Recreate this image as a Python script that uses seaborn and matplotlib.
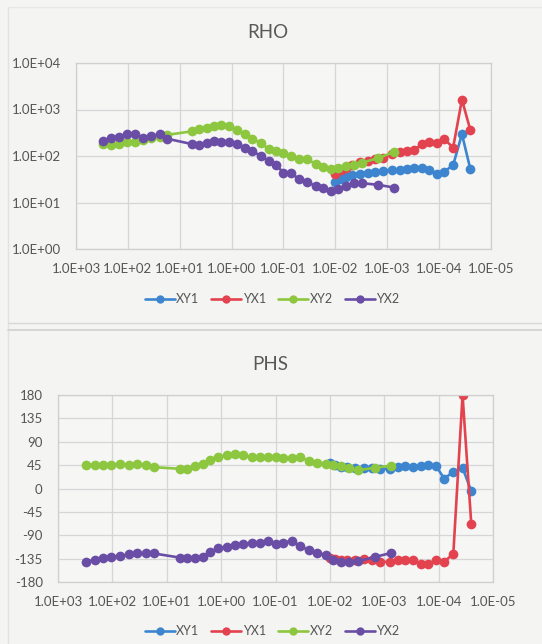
import numpy as np
import pandas as pd
import matplotlib
matplotlib.use("Agg")
import matplotlib.pyplot as plt
import seaborn as sns
from matplotlib.ticker import FuncFormatter, FixedLocator
from matplotlib.lines import Line2D

# ---------------- data ----------------
# low-frequency band (series 2) periods, s
period_2 = [302, 209, 148, 105, 72.4, 50.1, 35.5, 24.5, 17.4,
            5.75, 4.17, 3.02, 2.19, 1.58, 1.12, 0.794, 0.562, 0.398,
            0.275, 0.191, 0.138, 0.100, 0.0724, 0.0501, 0.0355, 0.0240,
            0.0170, 0.0120, 0.00891, 0.00631, 0.00447, 0.00302, 0.00151, 0.000741]
rho_xy2 = [180, 172, 185, 200, 205, 220, 240, 262, 285,
           340, 380, 410, 450, 460, 440, 360, 300, 235,
           190, 140, 128, 116, 100, 88, 85, 68,
           57, 52, 55, 60, 65, 72, 90, 122]
rho_yx2 = [207, 240, 262, 290, 300, 238, 275, 290, 235,
           180, 176, 195, 212, 200, 198, 178, 150, 128,
           100, 78, 63, 44, 43, 32, 27, 23,
           21, 18, 20, 23, 26, 26, 24, 21]
phs_xy2 = [45, 46, 46, 46, 47, 46, 47, 45, 41,
           38, 38, 44, 48, 54, 60, 65, 67, 64,
           60, 60, 60, 60, 59, 59, 60, 53,
           50, 48, 46, 43, 40, 35, 40, 44]
phs_yx2 = [-141, -137, -133, -131, -130, -127, -125, -125, -125,
           -133, -133, -133, -131, -122, -115, -112, -109, -107,
           -105, -104, -102, -107, -104, -101, -111, -119,
           -124, -128, -137, -141, -141, -140, -132, -124]

# high-frequency band (series 1) periods, s
period_1 = [0.0100, 0.00794, 0.00631, 0.00479, 0.00339, 0.00240, 0.00170,
            0.00120, 0.000794, 0.000562, 0.000417, 0.000302, 0.000214,
            0.000158, 0.000112, 0.0000794, 0.0000537, 0.0000363, 0.0000251]
rho_xy1 = [27.5, 32, 35.5, 40, 42, 44, 45, 47, 49, 51, 53, 54, 55,
           51, 42, 46, 64, 295, 53]
rho_yx1 = [42, 50, 55, 65, 73, 80, 87, 92, 110, 120, 130, 136, 180,
           196, 195, 230, 152, 1630, 365]
phs_xy1 = [50, 45, 42, 41, 40, 39, 39, 37, 38, 41, 43, 41, 43,
           45, 44, 19, 32, 40, -5]
phs_yx1 = [-133, -135, -137, -138, -137, -135, -138, -141, -141, -138,
           -138, -138, -145, -146, -137, -141, -126, 180, -68]

series_names = ["XY1", "YX1", "XY2", "YX2"]
colors = {"XY1": "#3d86cf", "YX1": "#e2434f", "XY2": "#8dc63f", "YX2": "#6a4ea6"}

x_ticks = [1e3, 1e2, 1e1, 1e0, 1e-1, 1e-2, 1e-3, 1e-4, 1e-5]
rho_ticks = [1e0, 1e1, 1e2, 1e3, 1e4]
phs_ticks = [-180, -135, -90, -45, 0, 45, 90, 135, 180]

frames = []
for name, per, rho, phs in [("XY1", period_1, rho_xy1, phs_xy1),
                            ("YX1", period_1, rho_yx1, phs_yx1),
                            ("XY2", period_2, rho_xy2, phs_xy2),
                            ("YX2", period_2, rho_yx2, phs_yx2)]:
    frames.append(pd.DataFrame({"series": name, "period": per,
                                "rho": rho, "phs": phs}))
df = pd.concat(frames, ignore_index=True)

# ---------------- style ----------------
sns.set_theme(style="white")
plt.rcParams["font.family"] = ["Lato", "DejaVu Sans"]

W, H = 542, 644
fig = plt.figure(figsize=(W / 100, H / 100), dpi=100, facecolor="#f4f4f3")

def fx(px):
    return px / W

def fy(py):
    return 1 - py / H

txt_col = "#555555"
grid_col = "#d6d6d6"
tick_fs = 9.5

def style_axes(ax):
    ax.set_facecolor("#f6f6f5")
    ax.set_xscale("log")
    ax.set_xlim(1e3, 1e-5)
    ax.xaxis.set_major_locator(FixedLocator(x_ticks))
    ax.xaxis.set_minor_locator(FixedLocator([]))
    ax.xaxis.set_major_formatter(FuncFormatter(lambda v, p: f"{v:.1E}"))
    ax.grid(True, color=grid_col, linewidth=0.9)
    ax.set_axisbelow(True)
    for s in ax.spines.values():
        s.set_color("#cfcfcf")
        s.set_linewidth(0.9)
    ax.tick_params(axis="both", length=0, labelsize=tick_fs, colors=txt_col)
    ax.tick_params(axis="x", pad=10)
    ax.tick_params(axis="y", pad=11)
    ax.set_xlabel("")
    ax.set_ylabel("")

def draw(ax, ycol):
    sns.lineplot(data=df, x="period", y=ycol, hue="series", hue_order=series_names,
                 palette=colors, marker="o", markersize=7, markeredgewidth=0,
                 linewidth=1.9, sort=False, estimator=None, ax=ax, legend=False)

# top: RHO
ax1 = fig.add_axes([fx(76), fy(249), fx(491 - 76), (249 - 63) / H])
draw(ax1, "rho")
style_axes(ax1)
ax1.set_yscale("log")
ax1.set_ylim(1, 1e4)
ax1.yaxis.set_major_locator(FixedLocator(rho_ticks))
ax1.yaxis.set_minor_locator(FixedLocator([]))
ax1.yaxis.set_major_formatter(FuncFormatter(lambda v, p: f"{v:.1E}"))

# bottom: PHS
ax2 = fig.add_axes([fx(58), fy(582), fx(493 - 58), (582 - 395) / H])
draw(ax2, "phs")
style_axes(ax2)
ax2.set_ylim(-180, 180)
ax2.yaxis.set_major_locator(FixedLocator(phs_ticks))
ax2.yaxis.set_major_formatter(FuncFormatter(lambda v, p: f"{int(v)}"))

# titles
fig.text(fx(268), fy(33), "RHO", ha="center", va="center", fontsize=13.5, color="#595959")
fig.text(fx(270), fy(364), "PHS", ha="center", va="center", fontsize=13.5, color="#595959")

# legends
handles = [Line2D([0], [0], color=colors[n], marker="o", markersize=6,
                  markeredgewidth=0, linewidth=1.9, label=n) for n in series_names]
for ycen in (299, 631):
    fig.legend(handles=handles, loc="center", bbox_to_anchor=(fx(272), fy(ycen)),
               ncol=4, frameon=False, fontsize=9, handlelength=2.4,
               handletextpad=0.1, columnspacing=1.0, labelcolor=txt_col)

# chart box edges / separator
fig.add_artist(Line2D([fx(8), fx(8)], [0, fy(7)], color="#e2e2e2", linewidth=1.0))
fig.add_artist(Line2D([fx(8), 1], [fy(7), fy(7)], color="#e8e8e8", linewidth=1.0))
fig.add_artist(Line2D([fx(8), 1], [fy(323), fy(323)], color="#d8d8d8", linewidth=1.0))
fig.add_artist(Line2D([fx(8), 1], [fy(330), fy(330)], color="#d0d0d0", linewidth=1.2))

fig.savefig("out.png", dpi=100, facecolor=fig.get_facecolor())
